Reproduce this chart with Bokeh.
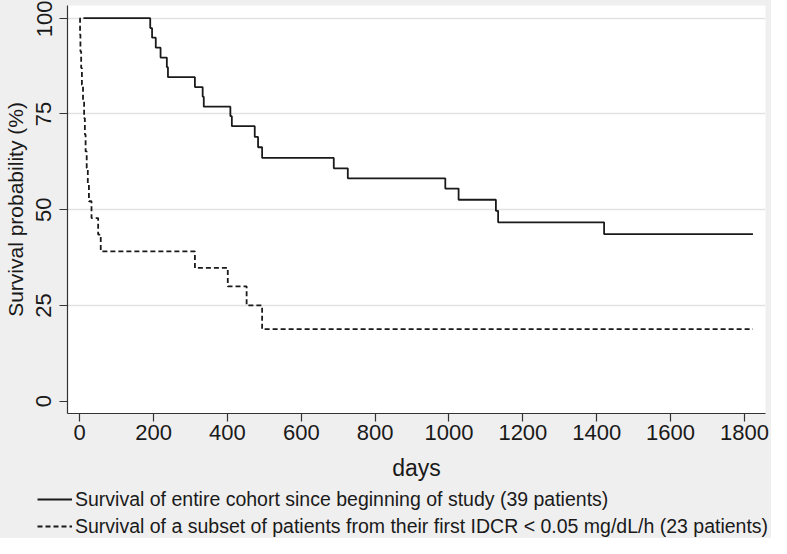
from bokeh.plotting import figure
from bokeh.layouts import column
from bokeh.models import Range1d, FixedTicker, Legend, LegendItem
from bokeh.embed import file_html
from bokeh.resources import INLINE

# Kaplan-Meier estimates
cohort_days = [10, 191, 196, 206, 219, 236, 239, 312, 333, 336, 408, 412, 474, 483, 494,
               688, 726, 990, 1026, 1127, 1133, 1420, 1823]
cohort_surv = [100, 97.4, 94.9, 92.3, 89.7, 87.2, 84.6, 82.0, 79.5, 76.9, 74.4, 71.8, 69.0,
               66.3, 63.5, 60.8, 58.2, 55.5, 52.6, 49.7, 46.7, 43.6, 43.6]

subset_days = [0, 1, 2, 4, 6, 9, 12, 14, 16, 19, 22, 25, 32, 50, 57, 312, 401, 452, 494, 1823]
subset_surv = [100, 95.7, 91.3, 87.0, 82.6, 78.3, 73.9, 69.6, 65.2, 60.9, 56.5, 52.2, 47.8,
               43.5, 39.1, 34.8, 30.0, 25.0, 18.8, 18.8]

x_ticks = [0, 200, 400, 600, 800, 1000, 1200, 1400, 1600, 1800]
y_ticks = [0, 25, 50, 75, 100]
grid_ticks = [25, 50, 75, 100]

label_cohort = "Survival of entire cohort since beginning of study (39 patients)"
label_subset = "Survival of a subset of patients from their first IDCR < 0.05 mg/dL/h (23 patients)"

FONT = "Liberation Sans"
BG = "#EFEFEF"
INK = "#1A1A1A"
W = 771

p = figure(width=W, height=486, x_range=Range1d(-33, 1857), y_range=Range1d(-3.2, 103.3),
           output_backend="svg", toolbar_location=None,
           min_border_top=5, min_border_right=6, min_border_left=65, min_border_bottom=73)
p.frame_align = False
p.background_fill_color = "white"
p.border_fill_color = BG
p.outline_line_color = None

p.xaxis.ticker = FixedTicker(ticks=x_ticks)
p.yaxis.ticker = FixedTicker(ticks=y_ticks)
p.yaxis.major_label_orientation = "vertical"
for ax in (p.xaxis, p.yaxis):
    ax.axis_line_color = "#333333"
    ax.axis_line_width = 1.2
    ax.major_tick_line_color = "#333333"
    ax.major_tick_line_width = 1.2
    ax.major_tick_out = 8
    ax.major_tick_in = 0
    ax.minor_tick_line_color = None
    ax.major_label_text_font = FONT
    ax.major_label_text_font_size = "22px"
    ax.major_label_text_color = INK
    ax.axis_label_text_font = FONT
    ax.axis_label_text_font_style = "normal"
    ax.axis_label_text_color = INK
p.xaxis.axis_label = "days"
p.yaxis.axis_label = "Survival probability (%)"
p.xaxis.axis_label_text_font_size = "23px"
p.yaxis.axis_label_text_font_size = "21px"
p.xaxis.major_label_standoff = 3
p.xaxis.axis_label_standoff = 12
p.yaxis.major_label_standoff = 8
p.yaxis.axis_label_standoff = 7

p.xgrid.visible = False
p.ygrid.ticker = FixedTicker(ticks=grid_ticks)
p.ygrid.grid_line_color = "#E2E2E2"
p.ygrid.grid_line_width = 1.5

p.step(cohort_days, cohort_surv, mode="after", line_color=INK, line_width=1.8)
p.step(subset_days, subset_surv, mode="after", line_color=INK, line_width=1.8, line_dash="5 3")

# key strip below the plot (Stata style legend); its frame shows no data region
lg = figure(width=W, height=52, output_backend="svg", toolbar_location=None,
            x_axis_type=None, y_axis_type=None,
            x_range=Range1d(-1, 0), y_range=Range1d(-1, 0),
            min_border_top=0, min_border_right=0, min_border_left=0, min_border_bottom=0)
lg.frame_align = False
lg.background_fill_color = BG
lg.border_fill_color = BG
lg.outline_line_color = None
lg.grid.visible = False
k1 = lg.step(cohort_days, cohort_surv, mode="after", line_color=INK, line_width=1.8)
k2 = lg.step(subset_days, subset_surv, mode="after", line_color=INK, line_width=1.8,
             line_dash="5 3")

legend = Legend(items=[LegendItem(label=label_cohort, renderers=[k1]),
                       LegendItem(label=label_subset, renderers=[k2])],
                location=(37, 0), orientation="vertical")
legend.label_text_font = FONT
legend.label_text_font_size = "19.5px"
legend.label_text_color = INK
legend.glyph_width = 35
legend.glyph_height = 24
legend.label_height = 24
legend.label_standoff = 3
legend.spacing = 3
legend.padding = 0
legend.margin = 0
legend.border_line_color = None
legend.background_fill_alpha = 0
lg.add_layout(legend, "center")

page = column(p, lg, spacing=0, styles={"background-color": BG})
open("out.html", "w").write(file_html(page, INLINE))
